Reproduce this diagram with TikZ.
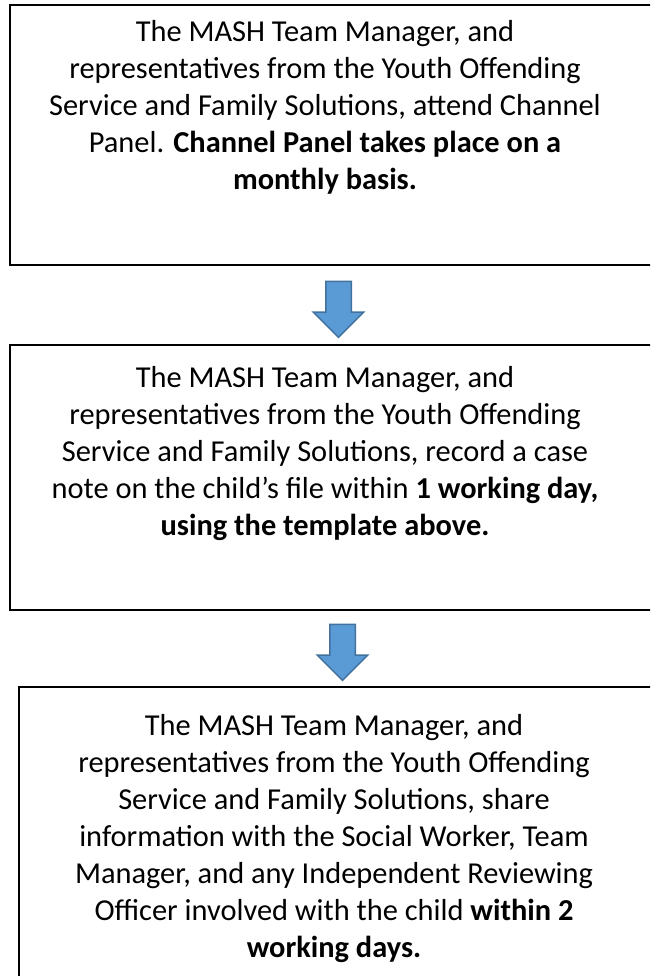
\documentclass[tikz,border=0pt]{standalone}
\usepackage{fontspec}
\setmainfont{Carlito}
\usetikzlibrary{shapes.arrows}

\definecolor{arrowfill}{HTML}{5B9BD5}
\definecolor{arrowline}{HTML}{41719C}

\begin{document}
\begin{tikzpicture}
  [x=1pt,y=-1pt,
   box/.style={draw,line width=2pt,rectangle,inner sep=0pt,anchor=north west,minimum width=700pt},
   txt/.style={align=center,inner sep=0pt,anchor=base,font=\fontsize{30.4}{37}\selectfont},
   downarrow/.style={single arrow,draw=arrowline,fill=arrowfill,line width=1.5pt,rotate=-90,
     minimum height=56pt,minimum width=49pt,single arrow head extend=12.5pt,inner sep=12pt}]
  \useasboundingbox (0,0) rectangle (650,976);
  \clip (0,0) rectangle (650,976);

  \node [box,minimum height=260pt] (box1) at (9,4) {};
  \node [box,minimum height=265pt] (box2) at (9,344) {};
  \node [box,minimum height=400pt] (box3) at (18,686) {};

  % anchor=base sits on the last line
  \node [txt] (t1) at (325,190) {The MASH Team Manager, and\\
    representatives from the Youth Offending\\
    Service and Family Solutions, attend Channel\\
    Panel. \textbf{Channel Panel takes place on a}\\
    \textbf{monthly basis.}};
  \node [txt] (t2) at (325,535) {The MASH Team Manager, and\\
    representatives from the Youth Offending\\
    Service and Family Solutions, record a case\\
    note on the child’s file within \textbf{1 working day,}\\
    \textbf{using the template above.}};
  \node [txt] (t3) at (334,957) {The MASH Team Manager, and\\
    representatives from the Youth Offending\\
    Service and Family Solutions, share\\
    information with the Social Worker, Team\\
    Manager, and any Independent Reviewing\\
    Officer involved with the child \textbf{within 2}\\
    \textbf{working days.}};

  \node [downarrow] (a1) at (338.5,303) {};
  \node [downarrow] (a2) at (342.5,646) {};

\end{tikzpicture}
\end{document}
